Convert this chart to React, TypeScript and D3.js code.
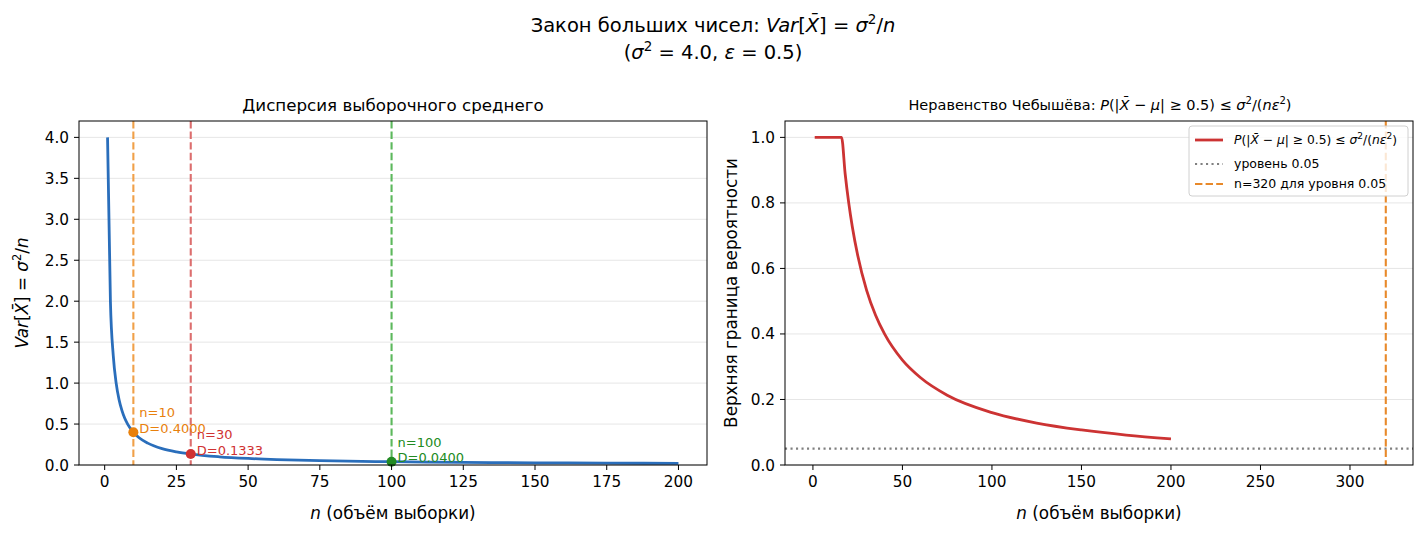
import React from 'react';
import * as d3 from 'd3';

// values (Var = sigma^2 / n, sigma^2 = 4)
const varN = [1, 2, 3, 4, 5, 6, 7, 8, 10, 12, 15, 20, 25, 30, 40, 50, 60, 75, 100, 125, 150, 175, 200];
const varVal = [4.0, 2.0, 1.333, 1.0, 0.8, 0.667, 0.571, 0.5, 0.4, 0.333, 0.267, 0.2, 0.16, 0.133, 0.1, 0.08, 0.0667, 0.0533, 0.04, 0.032, 0.0267, 0.0229, 0.02];

// Chebyshev bound, clipped at 1
const chebN = [1, 5, 10, 16, 18, 20, 22, 25, 30, 35, 40, 50, 60, 75, 100, 125, 150, 175, 200];
const chebVal = [1.0, 1.0, 1.0, 1.0, 0.889, 0.8, 0.727, 0.64, 0.533, 0.457, 0.4, 0.32, 0.267, 0.213, 0.16, 0.128, 0.107, 0.0914, 0.08];

const markN = [10, 30, 100];
const markVal = [0.4, 0.1333, 0.04];
const markColor = ['#e8800c', '#d03232', '#228b22'];
const markLine = ['#f0a048', '#dc6e6e', '#5cb85c'];

const leftXTicks = [0, 25, 50, 75, 100, 125, 150, 175, 200];
const leftYTicks = [0, 0.5, 1.0, 1.5, 2.0, 2.5, 3.0, 3.5, 4.0];
const rightXTicks = [0, 50, 100, 150, 200, 250, 300];
const rightYTicks = [0, 0.2, 0.4, 0.6, 0.8, 1.0];

const level = 0.05;
const nLevel = 320;

const FONT = '"DejaVu Sans", sans-serif';
const TICK_FS = 15.3;
const LABEL_FS = 16.8;

const Xbar = () => (
  <tspan fontStyle="italic">X̄</tspan>
);

export default function App() {
  const top = 121, bottom = 465;
  const lx = d3.scaleLinear().domain([-8.95, 209.95]).range([79, 707]);
  const ly = d3.scaleLinear().domain([0, 4.2]).range([bottom, top]);
  const rx = d3.scaleLinear().domain([-15.6, 335.2]).range([785, 1413]);
  const ry = d3.scaleLinear().domain([0, 1.05]).range([bottom, top]);

  const leftLine = d3.line<number>().x((_, i) => lx(varN[i])).y(d => ly(d)).curve(d3.curveMonotoneX);
  const rightLine = d3.line<number>().x((_, i) => rx(chebN[i])).y(d => ry(d)).curve(d3.curveMonotoneX);

  const tickSize = 5;

  return (
    <svg width={1426} height={536} style={{ position: 'absolute', left: 0, top: 0 }} fontFamily={FONT}>
      <rect width={1426} height={536} fill="#fff" />

      {/* suptitle */}
      <text x={713} y={32} textAnchor="middle" fontSize={19.5} fill="#000">
        Закон больших чисел: <tspan fontStyle="italic">Var</tspan>[<Xbar />] = <tspan fontStyle="italic">σ</tspan>
        <tspan dy={-8} fontSize={13.5}>2</tspan><tspan dy={8}>/</tspan><tspan fontStyle="italic">n</tspan>
      </text>
      <text x={713} y={59} textAnchor="middle" fontSize={19.5} fill="#000">
        (<tspan fontStyle="italic">σ</tspan><tspan dy={-8} fontSize={13.5}>2</tspan><tspan dy={8}> = 4.0, </tspan>
        <tspan fontStyle="italic">ε</tspan> = 0.5)
      </text>

      {/* ---------- left panel ---------- */}
      <text x={393} y={111} textAnchor="middle" fontSize={16.7}>Дисперсия выборочного среднего</text>
      <g>
        {leftYTicks.map(t => (
          <line key={t} x1={79} x2={707} y1={ly(t)} y2={ly(t)} stroke="#e6e6e6" strokeWidth={1} />
        ))}
        {markN.map((n, i) => (
          <line key={n} x1={lx(n)} x2={lx(n)} y1={top} y2={bottom} stroke={markLine[i]} strokeWidth={2.1}
            strokeDasharray="7.4,3.2" />
        ))}
        <path d={leftLine(varVal) || ''} fill="none" stroke="#2a6ebb" strokeWidth={2.8} />
        {markN.map((n, i) => (
          <g key={n}>
            <circle cx={lx(n)} cy={ly(markVal[i])} r={5} fill={markColor[i]} />
            <text x={lx(n) + 6} y={ly(markVal[i]) - 15} fontSize={13} fill={markColor[i]}>n={n}</text>
            <text x={lx(n) + 6} y={ly(markVal[i]) + 0.5} fontSize={13} fill={markColor[i]}>D={markVal[i].toFixed(4)}</text>
          </g>
        ))}
        <rect x={79} y={top} width={628} height={bottom - top} fill="none" stroke="#000" strokeWidth={1} />
        {leftXTicks.map(t => (
          <g key={t}>
            <line x1={lx(t)} x2={lx(t)} y1={bottom} y2={bottom + tickSize} stroke="#000" />
            <text x={lx(t)} y={bottom + 22} textAnchor="middle" fontSize={TICK_FS}>{t}</text>
          </g>
        ))}
        {leftYTicks.map(t => (
          <g key={t}>
            <line x1={79 - tickSize} x2={79} y1={ly(t)} y2={ly(t)} stroke="#000" />
            <text x={79 - 10} y={ly(t) + 5.5} textAnchor="end" fontSize={TICK_FS}>{t.toFixed(1)}</text>
          </g>
        ))}
        <text x={393} y={519} textAnchor="middle" fontSize={LABEL_FS}>
          <tspan fontStyle="italic">n</tspan> (объём выборки)
        </text>
        <text transform={`translate(28,${(top + bottom) / 2}) rotate(-90)`} textAnchor="middle" fontSize={LABEL_FS}>
          <tspan fontStyle="italic">Var</tspan>[<Xbar />] = <tspan fontStyle="italic">σ</tspan>
          <tspan dy={-7} fontSize={11.5}>2</tspan><tspan dy={7}>/</tspan><tspan fontStyle="italic">n</tspan>
        </text>
      </g>

      {/* ---------- right panel ---------- */}
      <text x={1100} y={110} textAnchor="middle" fontSize={14.5}>
        Неравенство Чебышёва: <tspan fontStyle="italic">P</tspan>(|<Xbar /> − <tspan fontStyle="italic">μ</tspan>| ≥ 0.5) ≤ <tspan fontStyle="italic">σ</tspan>
        <tspan dy={-6} fontSize={10}>2</tspan><tspan dy={6}>/(</tspan><tspan fontStyle="italic">nε</tspan>
        <tspan dy={-6} fontSize={10}>2</tspan><tspan dy={6}>)</tspan>
      </text>
      <g>
        {rightYTicks.map(t => (
          <line key={t} x1={785} x2={1413} y1={ry(t)} y2={ry(t)} stroke="#e6e6e6" strokeWidth={1} />
        ))}
        <line x1={785} x2={1413} y1={ry(level)} y2={ry(level)} stroke="#808080" strokeWidth={2.1} strokeDasharray="2.1,3.4" />
        <line x1={rx(nLevel)} x2={rx(nLevel)} y1={top} y2={bottom} stroke="#e8892a" strokeWidth={2.1} strokeDasharray="7.4,3.2" />
        <path d={rightLine(chebVal) || ''} fill="none" stroke="#cc3333" strokeWidth={2.8} />
        <rect x={785} y={top} width={628} height={bottom - top} fill="none" stroke="#000" strokeWidth={1} />
        {rightXTicks.map(t => (
          <g key={t}>
            <line x1={rx(t)} x2={rx(t)} y1={bottom} y2={bottom + tickSize} stroke="#000" />
            <text x={rx(t)} y={bottom + 22} textAnchor="middle" fontSize={TICK_FS}>{t}</text>
          </g>
        ))}
        {rightYTicks.map(t => (
          <g key={t}>
            <line x1={785 - tickSize} x2={785} y1={ry(t)} y2={ry(t)} stroke="#000" />
            <text x={785 - 10} y={ry(t) + 5.5} textAnchor="end" fontSize={TICK_FS}>{t.toFixed(1)}</text>
          </g>
        ))}
        <text x={1099} y={519} textAnchor="middle" fontSize={LABEL_FS}>
          <tspan fontStyle="italic">n</tspan> (объём выборки)
        </text>
        <text transform={`translate(737,${(top + bottom) / 2}) rotate(-90)`} textAnchor="middle" fontSize={LABEL_FS}>
          Верхняя граница вероятности
        </text>

        {/* legend */}
        <g transform="translate(1189,126)">
          <rect x={0} y={0} width={219} height={70} rx={3} fill="#fff" fillOpacity={0.8} stroke="#d0d0d0" />
          <line x1={6} x2={34} y1={14} y2={14} stroke="#cc3333" strokeWidth={2.8} />
          <text x={45} y={18} fontSize={12.3}>
            <tspan fontStyle="italic">P</tspan>(|<Xbar /> − <tspan fontStyle="italic">μ</tspan>| ≥ 0.5) ≤ <tspan fontStyle="italic">σ</tspan>
            <tspan dy={-5} fontSize={9}>2</tspan><tspan dy={5}>/(</tspan><tspan fontStyle="italic">nε</tspan>
            <tspan dy={-5} fontSize={9}>2</tspan><tspan dy={5}>)</tspan>
          </text>
          <line x1={6} x2={34} y1={38} y2={38} stroke="#808080" strokeWidth={2.1} strokeDasharray="2.1,3.4" />
          <text x={45} y={42} fontSize={12.5}>уровень 0.05</text>
          <line x1={6} x2={34} y1={58} y2={58} stroke="#e8892a" strokeWidth={2.1} strokeDasharray="7.4,3.2" />
          <text x={45} y={62} fontSize={12.5}>n=320 для уровня 0.05</text>
        </g>
      </g>
    </svg>
  );
}
